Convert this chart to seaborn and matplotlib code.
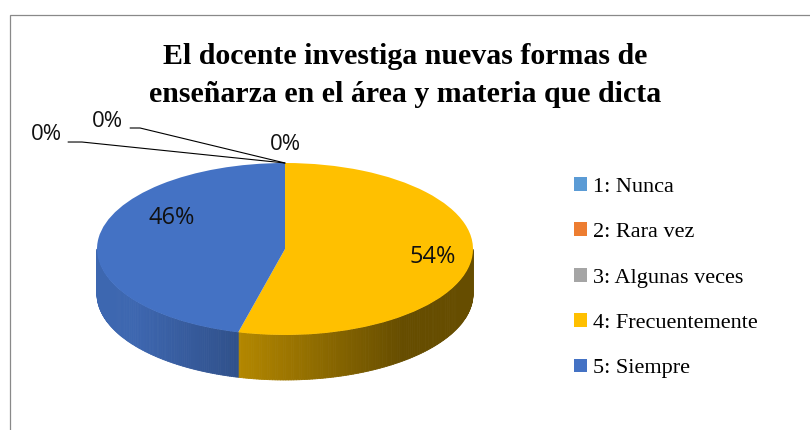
import numpy as np
import matplotlib
matplotlib.use('Agg')
import matplotlib.pyplot as plt
import seaborn as sns
from matplotlib.patches import Patch, Rectangle
from matplotlib.collections import PolyCollection
from matplotlib.colors import to_rgb

# datos
categories = ['1: Nunca', '2: Rara vez', '3: Algunas veces', '4: Frecuentemente', '5: Siempre']
values = [0, 0, 0, 54, 46]
pct_labels = ['0%', '0%', '0%', '54%', '46%']
colors = ['#5b9bd5', '#ed7d31', '#a5a5a5', '#ffc000', '#4472c4']
title = 'El docente investiga nuevas formas de\nenseñarza en el área y materia que dicta'

sns.set_theme(style='white')
plt.rcParams['font.family'] = ['Liberation Serif', 'DejaVu Serif']
plt.rcParams['text.color'] = 'black'

fig = plt.figure(figsize=(8.1, 4.3), dpi=100)

# ejes del pastel: 188 px por unidad en x, 86 px en y, centro en (285, 249)
ax = fig.add_axes([3 / 810, 0, 564 / 810, 1])
wedges, _ = ax.pie(values, colors=colors, startangle=90, counterclock=False,
                   wedgeprops=dict(linewidth=0, edgecolor='none'))
ax.set_aspect('auto')
ax.set_xlim(-1.5, 1.5)
ax.set_ylim(-(430 - 249) / 86, 249 / 86)
ax.axis('off')

# pared lateral (efecto 3D)
depth = 0.523
polys, fcs = [], []
for w in wedges:
    if w.theta2 - w.theta1 <= 0:
        continue
    t = np.radians(np.linspace(w.theta1, w.theta2, 240))
    base = np.array(to_rgb(w.get_facecolor()))
    for t0, t1 in zip(t[:-1], t[1:]):
        m = (t0 + t1) / 2
        if np.sin(m) >= 0:
            continue
        f = np.clip(0.62 - 0.35 * np.cos(m), 0.4, 0.9)
        polys.append([(np.cos(t0), np.sin(t0)), (np.cos(t1), np.sin(t1)),
                      (np.cos(t1), np.sin(t1) - depth), (np.cos(t0), np.sin(t0) - depth)])
        fcs.append(tuple(base * f))
ax.add_collection(PolyCollection(polys, facecolors=fcs, edgecolors=fcs, linewidths=0.6, zorder=0.5))

# etiquetas de porcentaje
label_xy = [(-1.271, 1.326), (-0.947, 1.488), (0.0, 1.21), (0.787, -0.093), (-0.601, 0.36)]
lab_font = dict(family=['Open Sans', 'DejaVu Sans'], color='#111111')
for (lx, ly), txt in zip(label_xy, pct_labels):
    ax.text(lx, ly, txt, ha='center', va='center', fontsize=16 if txt == '0%' else 17, **lab_font)

# lineas guia
ax.plot([-1.154, -1.080, 0.0], [1.244, 1.244, 1.0], color='black', lw=0.8)
ax.plot([-0.824, -0.771, 0.0], [1.407, 1.407, 1.0], color='black', lw=0.8)

fig.text(0.5, 1 - 43 / 430, title, ha='center', va='top', fontsize=21.5,
         fontweight='bold', linespacing=1.53)

handles = [Patch(facecolor=c, edgecolor='none') for c in colors]
fig.legend(handles, categories, loc='upper left', bbox_to_anchor=(574 / 810, 1 - 177 / 430),
           frameon=False, fontsize=16, handlelength=0.59, handleheight=0.59,
           handletextpad=0.28, labelspacing=1.15, borderpad=0, borderaxespad=0)

# borde del area del grafico
fig.add_artist(Rectangle((9.5 / 810, -0.5), 2, 1.5 - 14.5 / 430, transform=fig.transFigure,
                         fill=False, edgecolor='#898989', lw=0.9))

fig.savefig('out.png', dpi=100)
